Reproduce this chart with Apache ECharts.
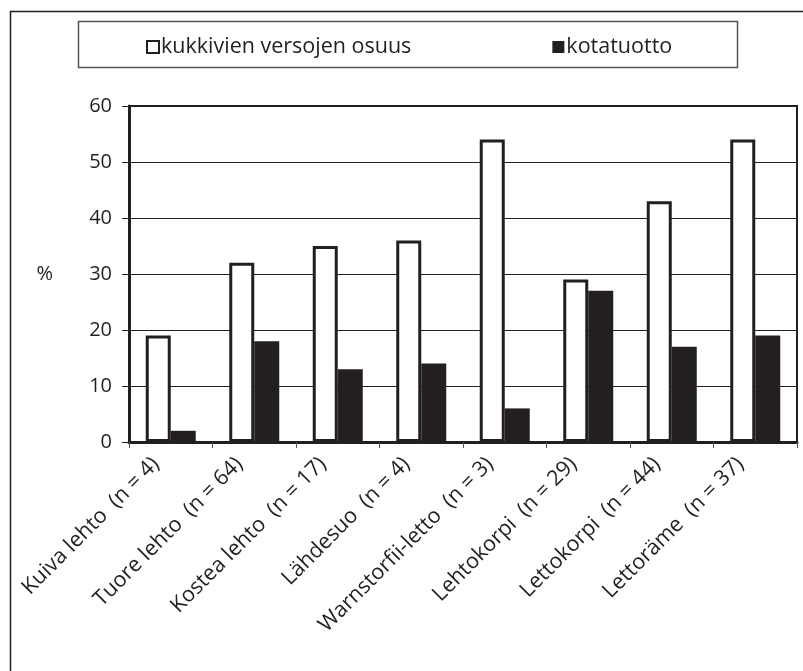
<!DOCTYPE html>
<html>
<head>
<meta charset="utf-8">
<script src="https://cdn.jsdelivr.net/npm/echarts@6/dist/echarts.min.js"></script>
<style>
  html, body { margin: 0; padding: 0; background: #fff; }
  #chart { width: 803px; height: 671px; }
</style>
</head>
<body>
<div id="chart"></div>
<script>
// Site types with sample sizes
const categories = [
  'Kuiva lehto  (n = 4)',
  'Tuore lehto  (n = 64)',
  'Kostea lehto  (n = 17)',
  'Lähdesuo  (n = 4)',
  'Warnstorfii-letto  (n = 3)',
  'Lehtokorpi  (n = 29)',
  'Lettokorpi  (n = 44)',
  'Lettoräme  (n = 37)'
];
// Share of flowering shoots, %
const floweringShare = [19, 32, 35, 36, 54, 29, 43, 54];
// Cone yield, %
const coneYield = [2, 18, 13, 14, 6, 27, 17, 19];
const yTicks = [0, 10, 20, 30, 40, 50, 60];

const INK = '#231f20';
const FONT = 'Open Sans';

const chart = echarts.init(document.getElementById('chart'), null, { renderer: 'canvas' });

chart.setOption({
  backgroundColor: '#fff',
  animation: false,
  textStyle: { fontFamily: FONT, color: INK },
  graphic: [
    // outer frame
    { type: 'rect', z: 0, silent: true,
      shape: { x: 10.5, y: 11.5, width: 900, height: 900 },
      style: { fill: 'none', stroke: INK, lineWidth: 1.5 } },
    // legend box
    { type: 'rect', z: 0, silent: true,
      shape: { x: 78.5, y: 21.5, width: 659, height: 46 },
      style: { fill: '#fff', stroke: '#555', lineWidth: 1.5 } }
  ],
  legend: {
    left: 141, top: 31,
    itemWidth: 12, itemHeight: 12, itemGap: 141,
    icon: 'rect',
    textStyle: { fontFamily: FONT, fontSize: 21.5, color: INK, padding: [0, 0, 0, -3] },
    data: [
      { name: 'kukkivien versojen osuus', itemStyle: { color: '#fff', borderColor: INK, borderWidth: 2 } },
      { name: 'kotatuotto', itemStyle: { color: INK, borderWidth: 0 } }
    ]
  },
  grid: {
    left: 129, right: 6, top: 106, bottom: 229,
    show: true, borderColor: INK, borderWidth: 2, backgroundColor: 'transparent'
  },
  xAxis: {
    type: 'category',
    data: categories,
    boundaryGap: true,
    axisLine: { lineStyle: { color: INK, width: 3 } },
    axisTick: { show: true, alignWithLabel: false, length: 6, lineStyle: { color: '#555', width: 1 } },
    axisLabel: { rotate: 45, interval: 0, margin: 4, fontSize: 21.5, color: INK, fontFamily: FONT,
      padding: [0, 21, 0, 0] }
  },
  yAxis: {
    type: 'value',
    min: yTicks[0], max: yTicks[yTicks.length - 1], interval: 10,
    name: '%', nameLocation: 'middle', nameRotate: 0, nameGap: 76,
    nameTextStyle: { fontSize: 20, color: INK, fontFamily: FONT },
    axisLine: { show: true, lineStyle: { color: INK, width: 3 } },
    axisTick: { show: true, length: 7, lineStyle: { color: INK, width: 1 } },
    axisLabel: { margin: 17, fontSize: 20, color: INK, fontFamily: FONT },
    splitLine: { show: true, lineStyle: { color: INK, width: 1 } }
  },
  series: [
    {
      name: 'kukkivien versojen osuus', type: 'bar',
      data: floweringShare, barWidth: 25, barGap: '0%',
      itemStyle: { color: '#fff', borderColor: INK, borderWidth: 3 }
    },
    {
      name: 'kotatuotto', type: 'bar',
      data: coneYield, barWidth: 25,
      itemStyle: { color: INK }
    }
  ]
});
</script>
</body>
</html>
